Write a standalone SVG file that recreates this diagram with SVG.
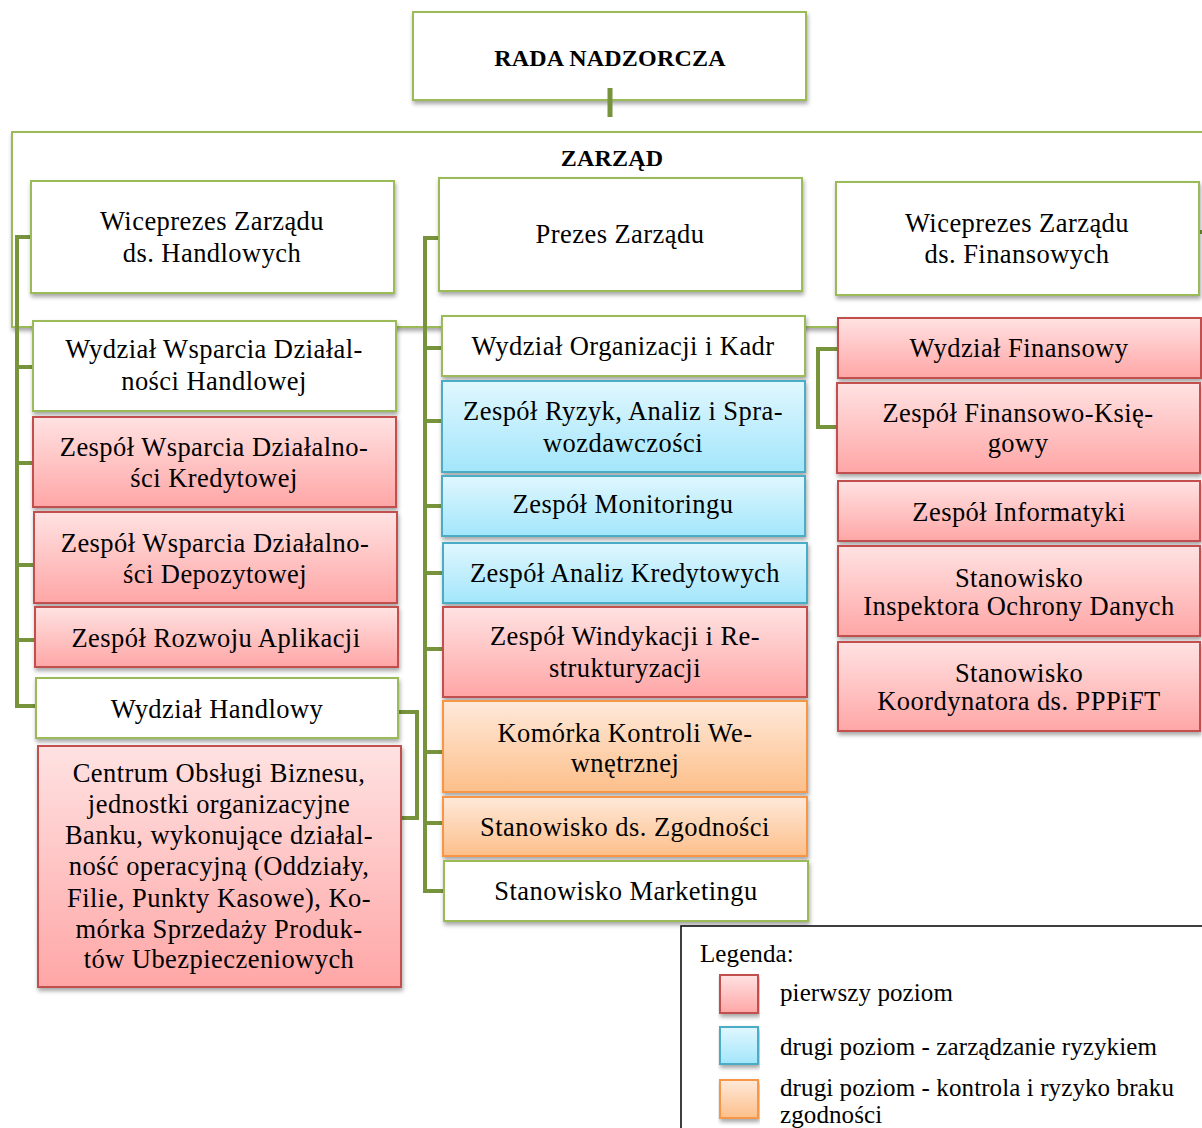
<svg xmlns="http://www.w3.org/2000/svg" width="1202" height="1128" viewBox="0 0 1202 1128">
<defs>
<linearGradient id="gPink" x1="0" y1="0" x2="0" y2="1"><stop offset="0" stop-color="#ffe2e2"/><stop offset="1" stop-color="#ffa6a6"/></linearGradient>
<linearGradient id="gBlue" x1="0" y1="0" x2="0" y2="1"><stop offset="0" stop-color="#e0f7fe"/><stop offset="1" stop-color="#a3e6fb"/></linearGradient>
<linearGradient id="gOrange" x1="0" y1="0" x2="0" y2="1"><stop offset="0" stop-color="#fee9da"/><stop offset="1" stop-color="#fdbf8a"/></linearGradient>
<filter id="sh" x="-5%" y="-10%" width="110%" height="130%"><feDropShadow dx="1" dy="3" stdDeviation="2" flood-color="#000" flood-opacity="0.35"/></filter>
<style>
text{font-family:"Liberation Serif","DejaVu Serif",serif;font-size:26.5px;fill:#000;text-anchor:middle;letter-spacing:0.45px}
.b{font-weight:bold;font-size:24px;letter-spacing:0.2px}
.w{fill:#fff;stroke:#9bbb59;stroke-width:2;filter:url(#sh)}
.p{fill:url(#gPink);stroke:#c0504d;stroke-width:2;filter:url(#sh)}
.c{fill:url(#gBlue);stroke:#4bacc6;stroke-width:2;filter:url(#sh)}
.o{fill:url(#gOrange);stroke:#f79646;stroke-width:2;filter:url(#sh)}
.con{fill:none;stroke:#77933c;stroke-width:4}
.lg{text-anchor:start;font-size:25px;letter-spacing:0.1px}
</style>
</defs>
<rect width="1202" height="1128" fill="#fff"/>

<g id="zarzad">
<rect class="w" x="12" y="132" width="1200" height="195"/>
<text class="b" x="612" y="166">ZARZĄD</text>
</g>

<g id="rada">
<rect class="w" x="413" y="12" width="393" height="88"/>
<text class="b" x="610" y="66">RADA NADZORCZA</text>
</g>

<g id="connectors">
<line class="con" x1="610" y1="88" x2="610" y2="117" style="stroke-width:5"/>
<path class="con" d="M31,237 H17 V706 H36 M17,367 H33 M17,463 H33 M17,565 H34 M17,640 H35"/>
<path class="con" d="M439,238 H425 V891 H444 M425,348 H442 M425,421 H442 M425,506 H442 M425,573 H443 M425,649 H443 M425,752 H443 M425,823 H443"/>
<path class="con" d="M398,712 H417 V818 H401"/>
<path class="con" d="M838,349 H818 V427 H837"/>
<line class="con" x1="1199" y1="232" x2="1204" y2="232"/>
</g>

<g id="n-wiceprezes-handl"><rect class="w" x="31" y="181" width="363" height="112"/><text x="212" y="230">Wiceprezes Zarządu</text><text x="212" y="262">ds. Handlowych</text></g>
<g id="n-wwdh"><rect class="w" x="33" y="321" width="363" height="90"/><text x="214" y="358">Wydział Wsparcia Działal-</text><text x="214" y="390">ności Handlowej</text></g>
<g id="n-zwdk"><rect class="p" x="33" y="417" width="363" height="90"/><text x="214" y="456">Zespół Wsparcia Działalno-</text><text x="214" y="487">ści Kredytowej</text></g>
<g id="n-zwdd"><rect class="p" x="34" y="512" width="363" height="91"/><text x="215" y="552">Zespół Wsparcia Działalno-</text><text x="215" y="583">ści Depozytowej</text></g>
<g id="n-zra"><rect class="p" x="35" y="607" width="363" height="60"/><text x="216" y="647">Zespół Rozwoju Aplikacji</text></g>
<g id="n-wh"><rect class="w" x="36" y="678" width="362" height="60"/><text x="217" y="718">Wydział Handlowy</text></g>
<g id="n-cob"><rect class="p" x="38" y="746" width="363" height="241"/>
<text x="219" y="782">Centrum Obsługi Biznesu,</text>
<text x="219" y="813">jednostki organizacyjne</text>
<text x="219" y="844">Banku, wykonujące działal-</text>
<text x="219" y="875">ność operacyjną (Oddziały,</text>
<text x="219" y="907">Filie, Punkty Kasowe), Ko-</text>
<text x="219" y="938">mórka Sprzedaży Produk-</text>
<text x="219" y="968">tów Ubezpieczeniowych</text></g>

<g id="n-prezes"><rect class="w" x="439" y="178" width="363" height="113"/><text x="620" y="243">Prezes Zarządu</text></g>
<g id="n-woik"><rect class="w" x="442" y="316" width="363" height="60"/><text x="623" y="355">Wydział Organizacji i Kadr</text></g>
<g id="n-zras"><rect class="c" x="442" y="381" width="363" height="91"/><text x="623" y="420">Zespół Ryzyk, Analiz i Spra-</text><text x="623" y="452">wozdawczości</text></g>
<g id="n-zm"><rect class="c" x="442" y="476" width="363" height="60"/><text x="623" y="513">Zespół Monitoringu</text></g>
<g id="n-zak"><rect class="c" x="443" y="543" width="364" height="60"/><text x="625" y="582">Zespół Analiz Kredytowych</text></g>
<g id="n-zwr"><rect class="p" x="443" y="607" width="364" height="90"/><text x="625" y="645">Zespół Windykacji i Re-</text><text x="625" y="677">strukturyzacji</text></g>
<g id="n-kkw"><rect class="o" x="443" y="701" width="364" height="91"/><text x="625" y="742">Komórka Kontroli We-</text><text x="625" y="772">wnętrznej</text></g>
<g id="n-sz"><rect class="o" x="443" y="797" width="364" height="59"/><text x="625" y="836">Stanowisko ds. Zgodności</text></g>
<g id="n-sm"><rect class="w" x="444" y="861" width="364" height="60"/><text x="626" y="900">Stanowisko Marketingu</text></g>

<g id="n-wiceprezes-fin"><rect class="w" x="836" y="182" width="363" height="113"/><text x="1017" y="232">Wiceprezes Zarządu</text><text x="1017" y="263">ds. Finansowych</text></g>
<g id="n-wf"><rect class="p" x="838" y="318" width="363" height="60"/><text x="1019" y="357">Wydział Finansowy</text></g>
<g id="n-zfk"><rect class="p" x="837" y="383" width="363" height="90"/><text x="1018" y="422">Zespół Finansowo-Księ-</text><text x="1018" y="452">gowy</text></g>
<g id="n-zi"><rect class="p" x="838" y="481" width="362" height="60"/><text x="1019" y="521">Zespół Informatyki</text></g>
<g id="n-siod"><rect class="p" x="838" y="546" width="362" height="90"/><text x="1019" y="587">Stanowisko</text><text x="1019" y="615">Inspektora Ochrony Danych</text></g>
<g id="n-skp"><rect class="p" x="838" y="642" width="362" height="89"/><text x="1019" y="682">Stanowisko</text><text x="1019" y="710">Koordynatora ds. PPPiFT</text></g>

<g id="legend">
<rect x="681" y="926" width="530" height="210" fill="#fff" stroke="#000" stroke-width="1.5"/>
<text class="lg" x="700" y="962">Legenda:</text>
<rect class="p" x="720" y="975" width="38" height="38"/>
<text class="lg" x="780" y="1001">pierwszy poziom</text>
<rect class="c" x="720" y="1027" width="38" height="37"/>
<text class="lg" x="780" y="1055">drugi poziom - zarządzanie ryzykiem</text>
<rect class="o" x="720" y="1080" width="38" height="38"/>
<text class="lg" x="780" y="1096">drugi poziom - kontrola i ryzyko braku</text>
<text class="lg" x="780" y="1123">zgodności</text>
</g>
</svg>
